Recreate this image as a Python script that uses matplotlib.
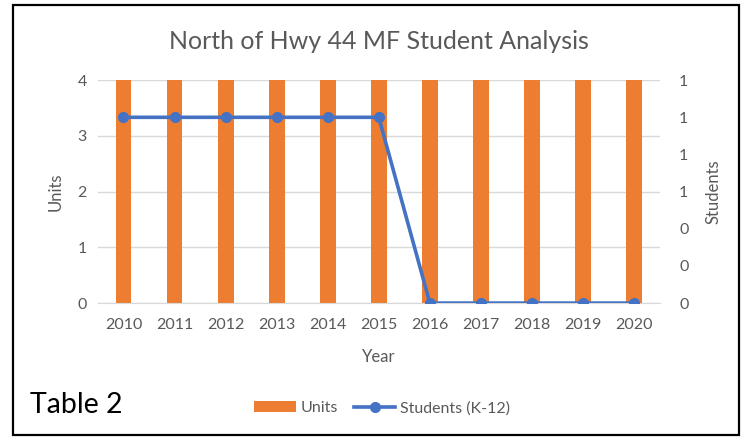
import numpy as np
import matplotlib.pyplot as plt
from matplotlib.patches import Rectangle
from matplotlib.ticker import FuncFormatter

plt.rcParams["font.family"] = ["Lato", "DejaVu Sans"]

YEARS = ["2010", "2011", "2012", "2013", "2014", "2015",
         "2016", "2017", "2018", "2019", "2020"]
UNITS = [4, 4, 4, 4, 4, 4, 4, 4, 4, 4, 4]
STUDENTS = [1, 1, 1, 1, 1, 1, 0, 0, 0, 0, 0]

ORANGE = "#ED7D31"
BLUE = "#4472C4"
GREY = "#595959"


def main():
    fig = plt.figure(figsize=(7.42, 4.38), dpi=100)
    ax = fig.add_axes([0.132, 0.308, 0.757, 0.509])
    x = np.arange(len(YEARS))

    ax.bar(x, UNITS, width=0.31, color=ORANGE, zorder=2, label="Units")
    ax.set_ylim(0, 4)
    ax.set_yticks([0, 1, 2, 3, 4])
    ax.set_xlim(-0.5, len(YEARS) - 0.5)
    ax.set_xticks(x)
    ax.set_xticklabels(YEARS)
    ax.grid(axis="y", color="#D9D9D9", lw=1, zorder=0)
    ax.set_axisbelow(True)
    for s in ("top", "left", "right"):
        ax.spines[s].set_visible(False)
    ax.spines["bottom"].set_color("#D9D9D9")
    ax.tick_params(length=0, colors=GREY, labelsize=11.5, pad=8)
    ax.tick_params(axis="x", pad=11)
    ax.set_ylabel("Units", color=GREY, fontsize=12, labelpad=10)
    ax.set_xlabel("Year", color=GREY, fontsize=12, labelpad=12)

    ax2 = ax.twinx()
    ax2.plot(x, STUDENTS, color=BLUE, lw=2.6, marker="o", ms=7,
             zorder=3, label="Students (K-12)")
    ax2.set_ylim(0, 1.2)
    ax2.set_yticks(np.arange(0, 1.21, 0.2))
    ax2.yaxis.set_major_formatter(FuncFormatter(lambda v, p: f"{v:.0f}"))
    for s in ax2.spines.values():
        s.set_visible(False)
    ax2.tick_params(length=0, colors=GREY, labelsize=11.5, pad=14)
    ax2.set_ylabel("Students", color=GREY, fontsize=12, labelpad=12)

    fig.text(0.511, 0.905, "North of Hwy 44 MF Student Analysis",
             ha="center", va="center", fontsize=18, color=GREY)

    h1, l1 = ax.get_legend_handles_labels()
    h2, l2 = ax2.get_legend_handles_labels()
    fig.legend(h1 + h2, l1 + l2, loc="center", bbox_to_anchor=(0.515, 0.068),
               ncol=2, frameon=False, fontsize=11.5, labelcolor=GREY,
               handlelength=2.6, columnspacing=1.0, handletextpad=0.3)

    fig.text(0.04, 0.075, "Table 2", ha="left", va="center",
             fontsize=20.5, color="black")

    fig.patches.append(Rectangle((0.017, 0.006), 0.979, 0.982,
                                 transform=fig.transFigure, fill=False,
                                 edgecolor="black", lw=1.6))

    fig.savefig("out.png", dpi=100)
    plt.close(fig)


if __name__ == "__main__":
    main()
